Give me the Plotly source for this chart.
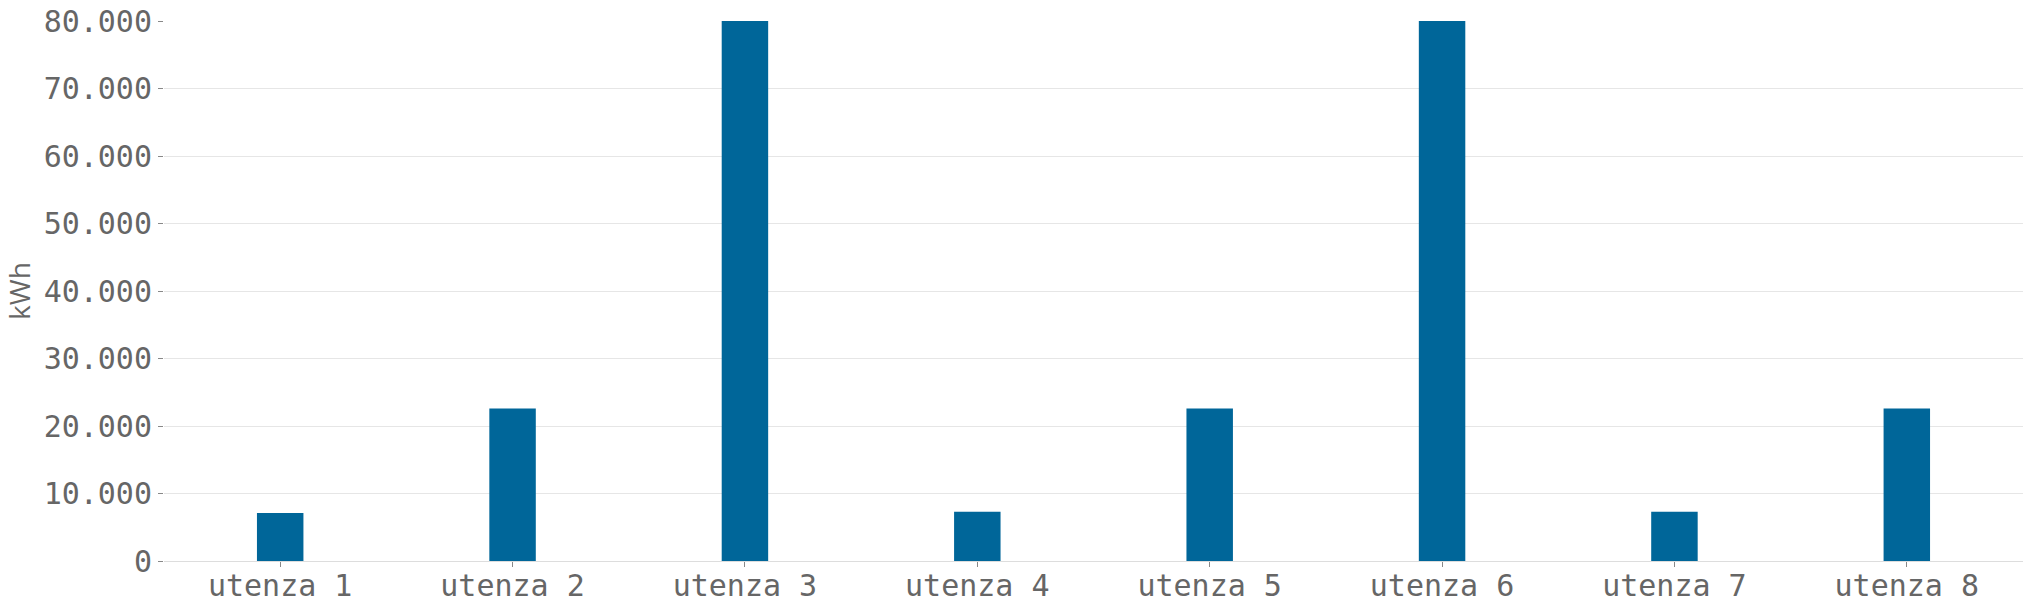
import plotly.graph_objects as go

categories = ["utenza 1", "utenza 2", "utenza 3", "utenza 4",
              "utenza 5", "utenza 6", "utenza 7", "utenza 8"]
values = [7100, 22600, 80000, 7300, 22600, 80000, 7300, 22600]
y_ticks = [0, 10000, 20000, 30000, 40000, 50000, 60000, 70000, 80000]

fig = go.Figure(
    go.Bar(x=categories, y=values, marker=dict(color="#006699", line=dict(width=0)),
           width=0.2)
)

fig.update_layout(
    width=2033, height=609,
    margin=dict(l=164, r=10, t=21, b=48, autoexpand=False),
    paper_bgcolor="white", plot_bgcolor="white",
    separators=",.",
    showlegend=False,
    font=dict(family="Open Sans", color="#666666"),
)

fig.update_xaxes(
    showgrid=False,
    showline=True, linecolor="#dddddd", linewidth=1,
    ticks="outside", ticklen=5, tickcolor="#888888", tickwidth=1,
    tickfont=dict(family="DejaVu Sans Mono", size=30, color="#666666"),
    ticklabelstandoff=-7,
    automargin=False,
)

fig.update_yaxes(
    range=[0, 80000],
    tickvals=y_ticks, tickformat=",",
    showgrid=True, gridcolor="#e6e6e6", gridwidth=1,
    zeroline=True, zerolinecolor="#dddddd", zerolinewidth=1,
    showline=False,
    ticks="outside", ticklen=5, tickcolor="#888888", tickwidth=1,
    tickfont=dict(family="DejaVu Sans Mono", size=30, color="#666666"),
    ticklabeloverflow="allow",
    title=dict(text="kWh", font=dict(family="Open Sans", size=28, color="#666666"), standoff=5),
    automargin=False,
)

fig.write_html("out.html", config={"displayModeBar": False},
               post_script="document.body.style.margin='0';")
